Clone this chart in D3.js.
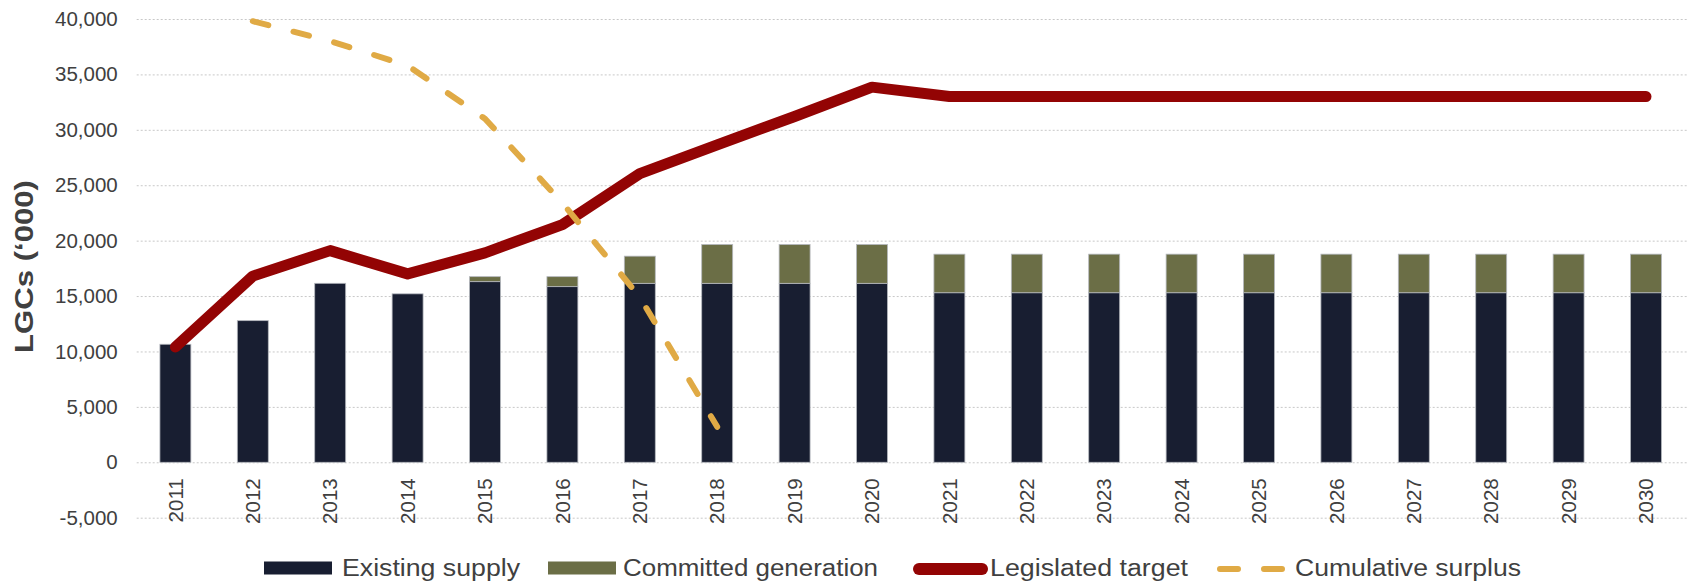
<!DOCTYPE html>
<html>
<head>
<meta charset="utf-8">
<script src="https://cdn.jsdelivr.net/npm/d3@7"></script>
<style>
  body { margin: 0; background: #fff; }
  svg text { font-family: "Liberation Sans", Arial, sans-serif; fill: #404040; }
</style>
</head>
<body>
<div id="chart"></div>
<script>
// Data (LGCs, thousands)
const years = ["2011","2012","2013","2014","2015","2016","2017","2018","2019","2020",
               "2021","2022","2023","2024","2025","2026","2027","2028","2029","2030"];
const existingSupply = [10650, 12780, 16150, 15200, 16300, 15850, 16150, 16150, 16150, 16150,
                        15300, 15300, 15300, 15300, 15300, 15300, 15300, 15300, 15300, 15300];
const committedGeneration = [0, 0, 0, 0, 450, 900, 2450, 3500, 3500, 3500,
                             3480, 3480, 3480, 3480, 3480, 3480, 3480, 3480, 3480, 3480];
const legislatedTarget = [10400, 16800, 19100, 17000, 18900, 21450, 26050, 28650, 31200, 33850,
                          33000, 33000, 33000, 33000, 33000, 33000, 33000, 33000, 33000, 33000];
const surplusYears = ["2012","2013","2014","2015","2016","2017","2018"];
const cumulativeSurplus = [39800, 38000, 35800, 31000, 23400, 14900, 3200];
const yTicks = [-5000, 0, 5000, 10000, 15000, 20000, 25000, 30000, 35000, 40000];

const colors = {existing: "#181e31", committed: "#6b6e46", target: "#930404", surplus: "#e0aa45"};

const W = 1687, H = 583;
const plot = {left: 136.7, right: 1684.7, top: 19, bottom: 517.7};

const svg = d3.select("#chart")
  .append("svg")
    .attr("width", W)
    .attr("height", H);

const x = d3.scaleBand()
  .domain(years)
  .range([plot.left, plot.right])
  .paddingInner(0.6)
  .paddingOuter(0.3);

const y = d3.scaleLinear()
  .domain([-5000, 40000])
  .range([plot.bottom, plot.top]);

// Gridlines + y tick labels (hyphen for negatives, like the original)
const fmt = d3.formatLocale({decimal: ".", thousands: ",", grouping: [3], currency: ["", ""], minus: "-"}).format(",");
const yAxis = svg.append("g")
  .attr("transform", `translate(${plot.left},0)`)
  .call(d3.axisLeft(y).tickValues(yTicks).tickSize(0).tickPadding(19).tickFormat(fmt));
yAxis.select(".domain").remove();
yAxis.selectAll(".tick text").style("font-size", "20.5px").attr("fill", "#404040");
yAxis.selectAll(".tick").append("line")
  .attr("x1", 0).attr("x2", W - plot.left)
  .attr("stroke", "#c8c8c8").attr("stroke-width", 1)
  .attr("stroke-dasharray", "2,2");

// Stacked bars
const rows = years.map((yr, i) => ({year: yr, existing: existingSupply[i], committed: committedGeneration[i]}));
const stack = d3.stack().keys(["existing", "committed"])(rows);

svg.append("g")
  .selectAll("g")
  .data(stack)
  .join("g")
    .attr("fill", d => colors[d.key])
  .selectAll("rect")
  .data(d => d.filter(s => s[1] > s[0]))
  .join("rect")
    .attr("x", d => x(d.data.year))
    .attr("width", x.bandwidth())
    .attr("y", d => y(d[1]))
    .attr("height", d => y(d[0]) - y(d[1]))
    .attr("stroke", "#b4b7bd")
    .attr("stroke-width", 0.8);

// X tick labels (rotated)
const xAxis = svg.append("g")
  .attr("transform", `translate(0,${y(0)})`)
  .call(d3.axisBottom(x).tickSize(0));
xAxis.select(".domain").remove();
xAxis.selectAll(".tick text")
  .style("font-size", "20.5px")
  .attr("fill", "#404040")
  .attr("text-anchor", "end")
  .attr("transform", "rotate(-90)")
  .attr("x", -16)
  .attr("y", 0)
  .attr("dy", "0.35em");

const cx = d => x(d) + x.bandwidth() / 2;

// Legislated target
svg.append("path")
  .datum(years.map((yr, i) => [yr, legislatedTarget[i]]))
  .attr("fill", "none")
  .attr("stroke", colors.target)
  .attr("stroke-width", 11)
  .attr("stroke-linejoin", "round")
  .attr("stroke-linecap", "round")
  .attr("d", d3.line().x(d => cx(d[0])).y(d => y(d[1])));

// Cumulative surplus
svg.append("path")
  .datum(surplusYears.map((yr, i) => [yr, cumulativeSurplus[i]]))
  .attr("fill", "none")
  .attr("stroke", colors.surplus)
  .attr("stroke-width", 6)
  .attr("stroke-dasharray", "16,26")
  .attr("stroke-linecap", "round")
  .attr("d", d3.line().x(d => cx(d[0])).y(d => y(d[1])));

// Y axis title
svg.append("text")
  .attr("transform", "translate(33,266.5) rotate(-90)")
  .attr("text-anchor", "middle")
  .style("font-size", "26px")
  .style("font-weight", "bold")
  .attr("fill", "#404040")
  .attr("textLength", 173)
  .attr("lengthAdjust", "spacingAndGlyphs")
  .text("LGCs (\u2018000)");

// Legend
const legendY = 568;
const legend = svg.append("g");
const items = [
  {label: "Existing supply", type: "rect", color: colors.existing, sx: 264, tx: 342, tw: 178},
  {label: "Committed generation", type: "rect", color: colors.committed, sx: 548, tx: 623, tw: 255},
  {label: "Legislated target", type: "line", color: colors.target, sx: 919, tx: 990, tw: 198},
  {label: "Cumulative surplus", type: "dash", color: colors.surplus, sx: 1220, tx: 1295, tw: 226}
];
items.forEach(it => {
  if (it.type === "rect") {
    legend.append("rect")
      .attr("x", it.sx).attr("y", legendY - 6.5)
      .attr("width", 68).attr("height", 13)
      .attr("fill", it.color);
  } else if (it.type === "line") {
    legend.append("line")
      .attr("x1", it.sx).attr("x2", it.sx + 63)
      .attr("y1", legendY + 1).attr("y2", legendY + 1)
      .attr("stroke", it.color).attr("stroke-width", 12)
      .attr("stroke-linecap", "round");
  } else {
    legend.append("line")
      .attr("x1", it.sx).attr("x2", it.sx + 62)
      .attr("y1", legendY + 1).attr("y2", legendY + 1)
      .attr("stroke", it.color).attr("stroke-width", 6)
      .attr("stroke-dasharray", "18,26")
      .attr("stroke-linecap", "round");
  }
  legend.append("text")
    .attr("x", it.tx).attr("y", legendY + 8)
    .style("font-size", "23.5px")
    .attr("fill", "#404040")
    .attr("textLength", it.tw)
    .attr("lengthAdjust", "spacingAndGlyphs")
    .text(it.label);
});
</script>
</body>
</html>
